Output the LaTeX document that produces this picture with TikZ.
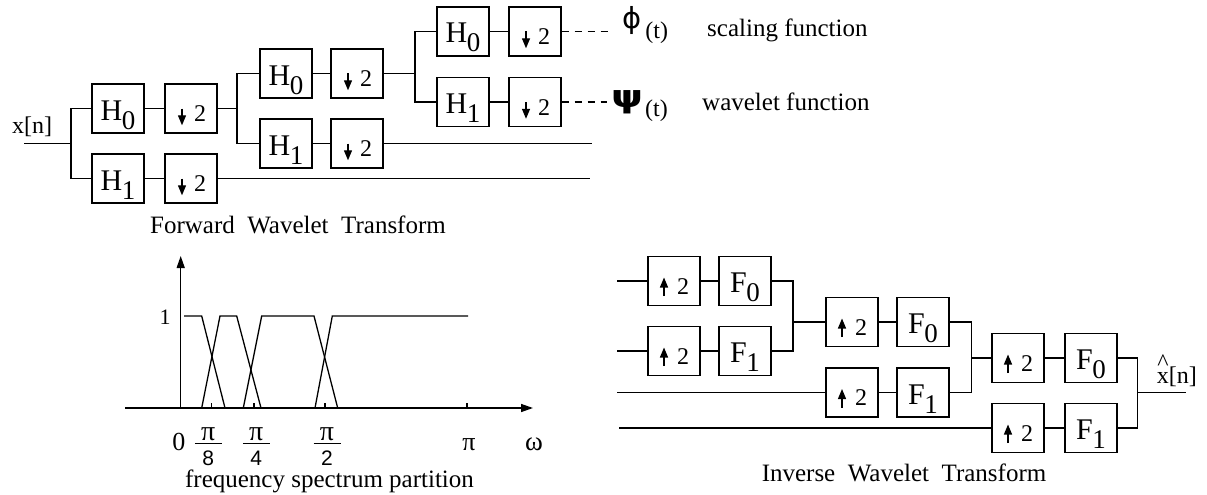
\documentclass[tikz,border=0pt]{standalone}
\usepackage{fontspec}
\setmainfont{Liberation Serif}
\newfontfamily\sansdig{Liberation Sans}
\newfontfamily\greek{DejaVu Sans}
\usetikzlibrary{arrows.meta}
\newcommand\sbx[2]{#1\kern-0.5pt\raisebox{-9pt}{\fontsize{27}{27}\selectfont #2}}
\newcommand\two{\makebox[30pt][r]{\fontsize{24}{24}\selectfont 2}}
\newcommand\pifrac[1]{{\setlength\arrayrulewidth{1.3pt}\renewcommand\arraystretch{0}%
\begin{tabular}[t]{@{}c@{}}\makebox[27pt]{\fontsize{28}{28}\selectfont π}\rule[-2pt]{0pt}{2pt}\\\hline
\rule{0pt}{21pt}{\sansdig\fontsize{21}{21}\selectfont #1}\end{tabular}}}
\begin{document}
\begin{tikzpicture}[x=1pt,y=-1pt,
  box/.style={draw, line width=1.4pt, minimum width=52pt, minimum height=49pt, inner sep=0pt,
    text height=23pt, text depth=0pt, font=\fontsize{30}{30}\selectfont},
  dbox/.style={box, text height=26pt},
  wire/.style={line width=1.4pt},
  dashwire/.style={line width=1.4pt, dash pattern=on 7pt off 6pt},
  darrow/.style={line width=1.3pt, -{Triangle[length=10pt,width=8pt]}},
  axis/.style={line width=1.4pt, -{Triangle[length=12pt,width=8pt]}},
  curve/.style={line width=1.3pt, line join=miter},
  lbl/.style={inner sep=0pt, anchor=base west, font=\fontsize{25}{25}\selectfont},
  title/.style={inner sep=0pt, anchor=base, font=\fontsize{25}{25}\selectfont}]
\useasboundingbox (0,0) rectangle (1207,495);

% ---------------- Forward wavelet transform ----------------
\node[lbl, font=\fontsize{24}{24}\selectfont] (xin) at (12,133) {x[n]};
\coordinate (in) at (24,143.5);
\coordinate (j1) at (71,143.5);
\coordinate (j2) at (237,108.5);
\coordinate (j3) at (415,73.5);
\coordinate (o1) at (590,178.5);
\coordinate (o2) at (592,143.5);
\coordinate (d0) at (612,31.5);
\coordinate (d1) at (607,102);

\node[box]  (fH0a) at (118,108.5) {\sbx{H}{0}};
\node[dbox] (fD0a) at (191,108.5) {\two};
\node[box]  (fH1a) at (118,178.5) {\sbx{H}{1}};
\node[dbox] (fD1a) at (191,178.5) {\two};
\node[box]  (fH0b) at (286,73.5) {\sbx{H}{0}};
\node[dbox] (fD0b) at (357,73.5) {\two};
\node[box]  (fH1b) at (286,143.5) {\sbx{H}{1}};
\node[dbox] (fD1b) at (357,143.5) {\two};
\node[box]  (fH0c) at (463,31.5) {\sbx{H}{0}};
\node[dbox] (fD0c) at (535,31.5) {\two};
\node[box]  (fH1c) at (463,102) {\sbx{H}{1}};
\node[dbox] (fD1c) at (535,102) {\two};

\draw[wire] (in) -- (j1);
\draw[wire] (fH0a.west) -| (j1) |- (fH1a.west);
\draw[wire] (fH0a) -- (fD0a);
\draw[wire] (fH1a) -- (fD1a);
\draw[wire] (fD0a.east) -- (j2);
\draw[wire] (fD1a.east) -- (o1);
\draw[wire] (fH0b.west) -| (j2) |- (fH1b.west);
\draw[wire] (fH0b) -- (fD0b);
\draw[wire] (fH1b) -- (fD1b);
\draw[wire] (fD0b.east) -- (j3);
\draw[wire] (fD1b.east) -- (o2);
\draw[wire] (fH0c.west) -| (j3) |- (fH1c.west);
\draw[wire] (fH0c) -- (fD0c);
\draw[wire] (fH1c) -- (fD1c);
\draw[dashwire] (fD0c.east) -- (d0);
\draw[dashwire] (fD1c.east) -- (d1);

\foreach \n in {fD0a,fD1a,fD0b,fD1b,fD0c,fD1c}
  \draw[darrow] ([xshift=-9pt]\n.center) -- ++(0,16.8);

\node[lbl] (phi) at (622,39) {\raisebox{10pt}{\greek\fontsize{29}{29}\selectfont ϕ}\kern4pt{\fontsize{24}{24}\selectfont (t)}};
\node[lbl] (psi) at (611,116) {\raisebox{9pt}{\scalebox{1.3}[1]{\greek\bfseries\fontsize{31}{31}\selectfont ψ}}\kern2pt{\fontsize{24}{24}\selectfont (t)}};
\node[lbl] (scal) at (707,36.7) {scaling function};
\node[lbl] (wave) at (702,110) {wavelet function};
\node[title] (fwt) at (298,233) {Forward\ \ Wavelet\ \ Transform};

% ---------------- Frequency spectrum partition ----------------
\coordinate (xa0) at (125,408);
\coordinate (xa1) at (533,408);
\coordinate (ya0) at (180.7,408);
\coordinate (ya1) at (180.7,256);
\draw[axis] (xa0) -- (xa1);
\draw[axis] (ya0) -- (ya1);
\draw[curve] (184,316) -- (201.7,316) -- (225,408);
\draw[curve] (201.7,408) -- (220,316) -- (236.7,316) -- (261,408);
\draw[curve] (243.3,408) -- (261.7,316) -- (314,316) -- (337.7,408);
\draw[curve] (315,408) -- (332.3,316) -- (468,316);
\foreach \t in {211.7,254,325,467}
  \draw[line width=1.3pt] (\t,408) -- (\t,403);
\node[inner sep=0pt, font=\fontsize{22}{22}\selectfont] (one) at (165,317.5) {1};
\node[inner sep=0pt, anchor=base, font=\fontsize{26}{26}\selectfont] (zero) at (178.8,450) {0};
\node[inner sep=0pt, anchor=base] (p8) at (208.3,440.7) {\pifrac{8}};
\node[inner sep=0pt, anchor=base] (p4) at (256.3,440.7) {\pifrac{4}};
\node[inner sep=0pt, anchor=base] (p2) at (327,440.7) {\pifrac{2}};
\node[inner sep=0pt, anchor=base, font=\fontsize{26}{26}\selectfont] (pi) at (469,450) {π};
\node[inner sep=0pt, anchor=base, font=\fontsize{27}{27}\selectfont] (om) at (534,450) {ω};
\node[title] (fsp) at (329.5,487) {frequency spectrum partition};

% ---------------- Inverse wavelet transform ----------------
\coordinate (ia) at (617,281);
\coordinate (ib) at (617,351);
\coordinate (ic) at (617,392.5);
\coordinate (id) at (619,428);
\coordinate (k1) at (793,322);
\coordinate (k2) at (971.7,358);
\coordinate (k3) at (1137.7,392.5);
\coordinate (xo) at (1186,392.5);

\node[dbox] (iU0a) at (674,281) {\two};
\node[box]  (iF0a) at (745,281) {\sbx{F}{0}};
\node[dbox] (iU1a) at (674,351) {\two};
\node[box]  (iF1a) at (745,351) {\sbx{F}{1}};
\node[dbox] (iU0b) at (852,322) {\two};
\node[box]  (iF0b) at (923,322) {\sbx{F}{0}};
\node[dbox] (iU1b) at (852,392.5) {\two};
\node[box]  (iF1b) at (923,392.5) {\sbx{F}{1}};
\node[dbox] (iU0c) at (1018,358) {\two};
\node[box]  (iF0c) at (1091,358) {\sbx{F}{0}};
\node[dbox] (iU1c) at (1018,428) {\two};
\node[box]  (iF1c) at (1091,428) {\sbx{F}{1}};

\draw[wire] (ia) -- (iU0a.west);
\draw[wire] (ib) -- (iU1a.west);
\draw[wire] (ic) -- (iU1b.west);
\draw[wire] (id) -- (iU1c.west);
\draw[wire] (iU0a) -- (iF0a);
\draw[wire] (iU1a) -- (iF1a);
\draw[wire] (iF0a.east) -| (k1) |- (iF1a.east);
\draw[wire] (k1) -- (iU0b.west);
\draw[wire] (iU0b) -- (iF0b);
\draw[wire] (iU1b) -- (iF1b);
\draw[wire] (iF0b.east) -| (k2) |- (iF1b.east);
\draw[wire] (k2) -- (iU0c.west);
\draw[wire] (iU0c) -- (iF0c);
\draw[wire] (iU1c) -- (iF1c);
\draw[wire] (iF0c.east) -| (k3) |- (iF1c.east);
\draw[wire] (k3) -- (xo);

\foreach \n in {iU0a,iU1a,iU0b,iU1b,iU0c,iU1c}
  \draw[darrow] ([xshift=-10pt,yshift=-15pt]\n.center) -- ++(0,-18.5);

\node[lbl, font=\fontsize{24}{24}\selectfont] (xout) at (1156.7,383)
  {\makebox[0pt][l]{\makebox[12pt]{\raisebox{13pt}{\^{}}}}x[n]};
\node[title] (iwt) at (904,481.7) {Inverse\ \ Wavelet\ \ Transform};
\end{tikzpicture}
\end{document}
